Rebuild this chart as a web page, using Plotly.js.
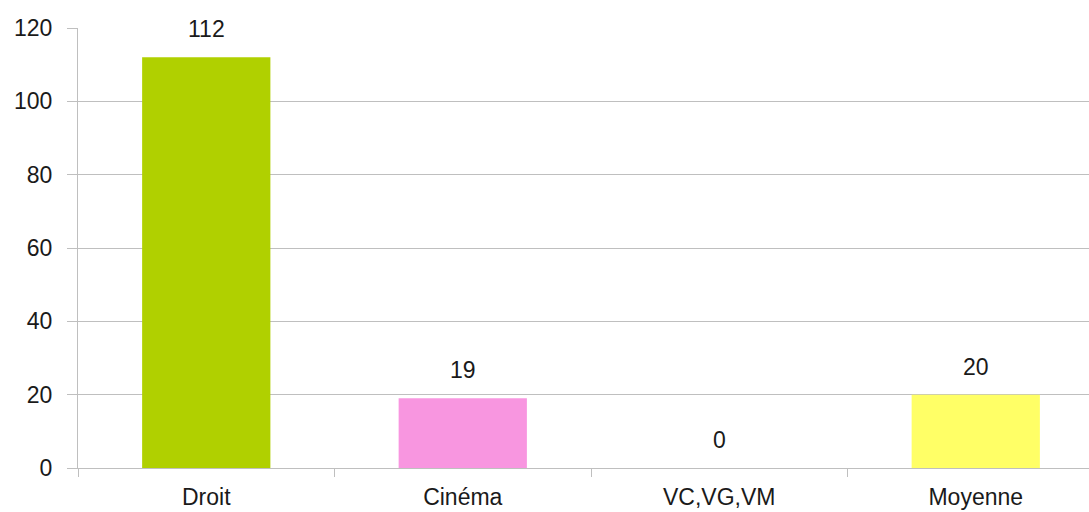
<!DOCTYPE html>
<html>
<head>
<meta charset="utf-8">
<script src="https://cdn.plot.ly/plotly-3.0.1.min.js"></script>
<style>
html,body{margin:0;padding:0;overflow:hidden;background:#fff;}
#chart{width:1110px;height:512px;}
</style>
</head>
<body>
<div id="chart"></div>
<script>
var categories = ["Droit", "Cinéma", "VC,VG,VM", "Moyenne"];
var values = [112, 19, 0, 20];
var barColors = ["#b0d000", "#f896e0", "#ffffff", "#ffff66"];
var yTicks = [0, 20, 40, 60, 80, 100, 120];

var trace = {
  type: "bar",
  x: categories,
  y: values,
  width: 0.5,
  marker: {color: barColors, line: {width: 0}},
  hoverinfo: "none"
};

var annotations = categories.map(function(c, i){
  return {
    x: c, y: values[i], xref: "x", yref: "y",
    text: String(values[i]),
    showarrow: false,
    yanchor: "middle",
    yshift: 28,
    font: {family: "Liberation Sans, Arial, sans-serif", size: 23, color: "#1a1a1a"}
  };
});

var layout = {
  width: 1110,
  height: 512,
  margin: {l: 78, r: 6, t: 28, b: 44, pad: 0},
  paper_bgcolor: "#ffffff",
  plot_bgcolor: "#ffffff",
  showlegend: false,
  font: {family: "Liberation Sans, Arial, sans-serif", size: 23, color: "#1a1a1a"},
  xaxis: {
    type: "category",
    range: [-0.5, 3.5],
    showline: true,
    linecolor: "#bfbfbf",
    linewidth: 1,
    ticks: "outside",
    tickson: "boundaries",
    ticklen: 8,
    tickcolor: "#bfbfbf",
    showgrid: false,
    zeroline: false,
    ticklabelstandoff: 8,
    tickfont: {size: 23, color: "#1a1a1a"},
    fixedrange: true
  },
  yaxis: {
    range: [0, 120],
    tickvals: yTicks,
    ticktext: yTicks.map(String),
    showline: true,
    linecolor: "#bfbfbf",
    linewidth: 1,
    ticks: "outside",
    ticklen: 10,
    tickcolor: "#bfbfbf",
    showgrid: true,
    gridcolor: "#bfbfbf",
    gridwidth: 1,
    zeroline: false,
    ticklabelstandoff: 10,
    tickfont: {size: 23, color: "#1a1a1a"},
    fixedrange: true
  },
  annotations: annotations
};

Plotly.newPlot("chart", [trace], layout, {displayModeBar: false, staticPlot: true});
</script>
</body>
</html>
